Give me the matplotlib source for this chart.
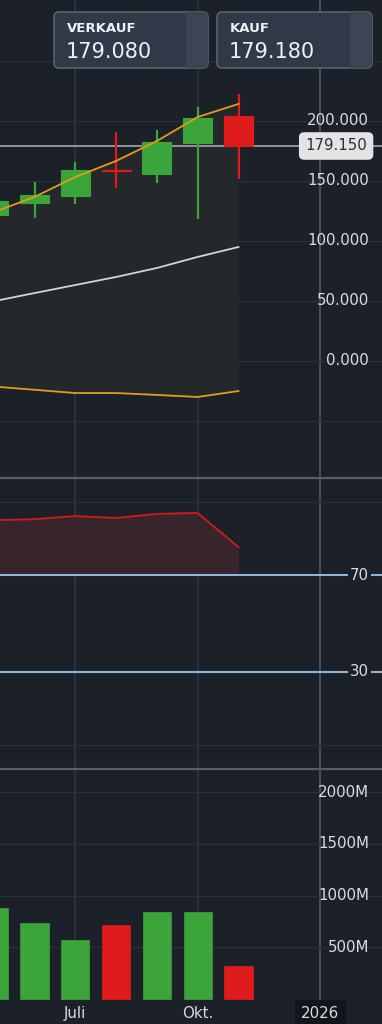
import matplotlib
matplotlib.use("Agg")
import matplotlib.pyplot as plt
import matplotlib.transforms as mtransforms
from matplotlib.patches import FancyBboxPatch, Rectangle

W, H = 382, 1024
DPI = 100

# =========================
# data (monthly candles, index 0 = Mai 2025)
# =========================
months = ["Mai", "Jun", "Jul", "Aug", "Sep", "Okt", "Nov"]
opens = [122.0, 131.7, 137.5, 159.0, 156.0, 181.5, 204.0]
closes = [133.3, 138.3, 159.0, 158.3, 182.5, 202.5, 179.15]
highs = [140.0, 149.0, 166.0, 191.0, 192.5, 211.7, 222.5]
lows = [115.0, 119.0, 131.0, 144.0, 148.0, 118.0, 151.7]

bb_upper = [124.0, 136.7, 153.3, 166.7, 183.3, 203.3, 214.2]
bb_mid = [49.8, 56.6, 63.3, 70.0, 77.5, 86.7, 95.0]
bb_lower = [-21.3, -24.0, -26.7, -26.7, -28.3, -30.0, -25.0]

rsi = [92.6, 93.0, 94.3, 93.5, 95.2, 95.6, 81.5]
volume_m = [883, 738, 573, 718, 845, 845, 320]

price_ticks = [200, 150, 100, 50, 0]
price_grid = [250, 200, 150, 100, 50, 0, -50]
rsi_levels = [70, 30]
rsi_grid = [100, 0]
vol_ticks = [2000, 1500, 1000, 500]

x_labels = ["Juli", "Okt.", "2026"]
x_label_pos = [2, 5, 8]

sell_label, sell_price = "VERKAUF", "179.080"
buy_label, buy_price = "KAUF", "179.180"
last_price = 179.15

# =========================
# colours
# =========================
BG = "#1b2029"
GRID = "#2a313a"
VGRID = "#303741"
VGRID_STRONG = "#474e58"
SEP = "#575e68"
TXT = "#d9dce0"
GREEN = "#3ba43b"
RED = "#e01b1b"
ORANGE = "#e49c17"
WHITE_LINE = "#d4d4d6"
BAND_FILL = "#25282b"
RSI_RED = "#d41a1a"
RSI_FILL = "#37252b"
LEVEL = "#8db6de"

x = list(range(len(months)))
colors = [GREEN if c >= o else RED for o, c in zip(opens, closes)]

# month index -> pixel: 34.5 + (i - 1) * 40.8
px_per_month = 40.8
x0 = 1 - 34.5 / px_per_month
x1 = 1 + (W - 34.5) / px_per_month


def frac(top_px, bottom_px):
    return [0, (H - bottom_px) / H, 1, (bottom_px - top_px) / H]


fig = plt.figure(figsize=(W / DPI, H / DPI), dpi=DPI, facecolor=BG)
ax_p = fig.add_axes(frac(0, 478))
ax_r = fig.add_axes(frac(478, 769))
ax_v = fig.add_axes(frac(769, 1000))

for ax in (ax_p, ax_r, ax_v):
    ax.set_facecolor("none")
    ax.set_xlim(x0, x1)
    ax.set_xticks([])
    ax.set_yticks([])
    for s in ax.spines.values():
        s.set_visible(False)
    for xp in x_label_pos:
        ax.axvline(xp, color=VGRID_STRONG if xp == 8 else VGRID,
                   lw=1.5 if xp == 8 else 1.1, zorder=0)

for ax in (ax_r, ax_v):
    ax.spines["top"].set_visible(True)
    ax.spines["top"].set_color(SEP)
    ax.spines["top"].set_linewidth(1.6)

lab_tr_p = mtransforms.blended_transform_factory(ax_p.transAxes, ax_p.transData)
lab_tr_r = mtransforms.blended_transform_factory(ax_r.transAxes, ax_r.transData)
lab_tr_v = mtransforms.blended_transform_factory(ax_v.transAxes, ax_v.transData)
lab_x = 369 / W

# =========================
# price panel
# =========================
ax_p.set_ylim(-97.5, 300.8)
for g in price_grid:
    ax_p.axhline(g, color=GRID, lw=1.0, zorder=0)

ax_p.fill_between(x, bb_lower, bb_upper, color=BAND_FILL, lw=0, zorder=1)
ax_p.plot(x, bb_mid, color=WHITE_LINE, lw=1.3, zorder=2)
ax_p.plot(x, bb_lower, color=ORANGE, lw=1.3, zorder=2)

ax_p.axhline(last_price, color="#9a9ea6", lw=1.3, zorder=2)

ax_p.vlines(x, lows, highs, colors=colors, lw=1.6, zorder=3)
ax_p.bar(x, [c - o for o, c in zip(opens, closes)], bottom=opens, width=0.71,
         color=colors, edgecolor=colors, lw=0.8, zorder=4)
ax_p.plot(x, bb_upper, color=ORANGE, lw=1.3, zorder=5)

for t in price_ticks:
    ax_p.text(lab_x, t, f"{t:.3f}", transform=lab_tr_p, ha="right", va="center",
              color=TXT, fontsize=10.8, zorder=6)

ax_p.text(lab_x - 2 / W, last_price, f"{last_price:.3f}", transform=lab_tr_p,
          ha="right", va="center", color="#2b2e33", fontsize=10.8, zorder=7,
          bbox=dict(boxstyle="round,pad=0.42,rounding_size=0.35",
                    fc="#e4e4e7", ec="none"))

# =========================
# RSI panel
# =========================
ax_r.set_ylim(-10, 110)
for g in rsi_grid:
    ax_r.axhline(g, color=GRID, lw=1.0, zorder=0)
ax_r.fill_between(x, 70, rsi, color=RSI_FILL, lw=0, zorder=1)
ax_r.plot(x, rsi, color=RSI_RED, lw=1.3, zorder=3)
for lv in rsi_levels:
    ax_r.axhline(lv, color=LEVEL, lw=1.5, zorder=2)
    ax_r.text(lab_x, lv, str(lv), transform=lab_tr_r, ha="right", va="center",
              color=TXT, fontsize=10.8, zorder=4,
              bbox=dict(boxstyle="square,pad=0.12", fc=BG, ec="none"))

# =========================
# volume panel
# =========================
ax_v.set_ylim(-9.7, 2224)
for g in vol_ticks:
    ax_v.axhline(g, color=GRID, lw=1.0, zorder=0)
    ax_v.text(lab_x, g, f"{g}M", transform=lab_tr_v, ha="right", va="center",
              color=TXT, fontsize=10.8, zorder=4)
ax_v.bar(x, volume_m, width=0.69, color=colors, edgecolor=colors, lw=0.5,
         zorder=2)

for xp, lab in zip(x_label_pos, x_labels):
    box = None
    if lab == "2026":
        box = dict(boxstyle="square,pad=0.42", fc="#121519", ec="none")
    ax_v.text(xp, -0.06, lab, transform=mtransforms.blended_transform_factory(
        ax_v.transData, ax_v.transAxes), ha="center", va="center",
        color=TXT, fontsize=10.8, clip_on=False, bbox=box)

# =========================
# bid / ask buttons (overlay in pixel coords)
# =========================
ov = fig.add_axes([0, 0, 1, 1], zorder=10)
ov.set_xlim(0, W)
ov.set_ylim(H, 0)
ov.axis("off")
ov.patch.set_visible(False)

for left, right, label, price in ((54, 208, sell_label, sell_price),
                                  (217, 372, buy_label, buy_price)):
    box = FancyBboxPatch((left, 12), right - left, 56,
                         boxstyle="round,pad=0,rounding_size=5",
                         fc="#2f3947", ec="#58626f", lw=1.2)
    ov.add_patch(box)
    stripe = Rectangle((right - 22, 12), 22, 56, fc="#3b4553", ec="none")
    ov.add_patch(stripe)
    stripe.set_clip_path(box)
    ov.text(left + 13, 28, label, color="#eef1f4", fontsize=9.5,
            fontweight="bold", va="center", ha="left")
    ov.text(left + 12, 52, price, color="#eef1f4", fontsize=15,
            va="center", ha="left")

fig.savefig("out.png", dpi=DPI, facecolor=BG)
